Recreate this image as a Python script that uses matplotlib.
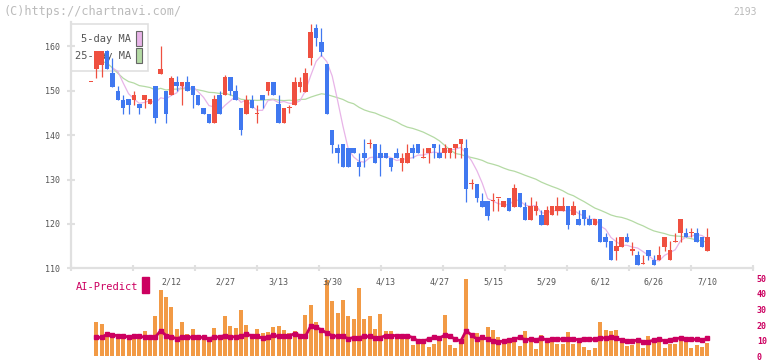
"""
2193 daily candles with 5/25-day MA, plus AI-Predict volume panel.
"""
import numpy as np
import pandas as pd
import matplotlib
matplotlib.use("Agg")
import matplotlib.pyplot as plt
from matplotlib.patches import Rectangle
from matplotlib.transforms import blended_transform_factory

plt.rcParams["font.family"] = ["DejaVu Sans Mono", "DejaVu Sans"]

# ---- data ----
opens = [152.0, 155.0, 155.8, 158.9, 154.0, 149.9, 148.0, 148.1, 148.0, 147.0,
         148.0, 147.0, 151.0, 153.7, 149.9, 149.0, 152.0, 151.0, 152.0, 151.0,
         149.0, 146.0, 144.8, 142.8, 149.0, 149.0, 153.0, 149.9, 146.0, 144.8,
         148.0, 144.8, 149.0, 149.9, 152.0, 147.0, 142.8, 146.0, 146.8, 150.9,
         149.8, 157.3, 164.1, 161.0, 156.0, 141.1, 137.1, 138.0, 137.1, 137.1,
         133.9, 135.9, 138.0, 138.0, 135.9, 135.9, 134.9, 135.9, 133.8, 133.8,
         137.1, 138.0, 134.9, 135.9, 138.0, 135.9, 135.9, 135.9, 137.1, 138.0,
         137.1, 129.0, 129.0, 125.2, 125.2, 125.2, 125.9, 123.9, 125.9, 123.9,
         127.0, 123.9, 120.9, 123.0, 122.0, 119.8, 121.9, 123.0, 123.0, 124.0,
         121.9, 121.1, 123.1, 121.1, 119.8, 121.1, 117.0, 116.1, 114.0, 114.9,
         117.0, 114.0, 113.0, 110.95, 114.1, 111.9, 111.9, 114.9, 111.9, 116.0,
         117.9, 117.9, 117.9, 117.9, 117.0, 114.0]
highs = [152.0, 158.9, 158.9, 159.2, 157.3, 151.0, 149.0, 148.1, 149.9, 147.0,
         149.0, 148.1, 151.0, 160.0, 149.9, 153.2, 153.2, 152.0, 153.2, 151.0,
         149.0, 146.0, 144.8, 149.0, 149.9, 153.5, 153.0, 151.2, 146.0, 149.0,
         149.0, 146.8, 149.0, 152.0, 152.0, 149.0, 146.0, 146.8, 153.1, 153.1,
         155.1, 165.0, 165.0, 164.1, 156.0, 141.1, 138.0, 138.0, 137.1, 137.1,
         135.9, 139.1, 139.1, 138.0, 138.0, 135.9, 134.9, 137.1, 135.9, 138.0,
         138.0, 138.0, 137.1, 137.1, 138.0, 138.0, 138.0, 137.1, 138.0, 139.1,
         139.1, 130.1, 129.0, 127.0, 125.2, 127.0, 125.9, 125.2, 125.9, 129.0,
         127.0, 125.0, 126.0, 125.2, 123.1, 124.0, 124.0, 126.0, 126.0, 124.0,
         125.2, 123.1, 123.1, 121.9, 121.1, 121.1, 117.9, 116.1, 117.0, 117.0,
         117.9, 116.0, 114.0, 113.0, 114.1, 113.0, 115.0, 117.0, 116.1, 117.9,
         121.1, 119.0, 119.0, 119.0, 117.0, 119.0]
lows = [152.0, 152.9, 153.0, 155.0, 150.9, 148.0, 144.8, 144.8, 146.8, 144.8,
        146.0, 147.0, 142.8, 153.7, 142.8, 149.0, 149.9, 146.8, 149.9, 146.0,
        146.8, 144.8, 142.8, 142.8, 144.8, 149.0, 149.0, 148.0, 140.0, 144.8,
        146.0, 142.8, 146.0, 149.0, 149.0, 142.8, 142.8, 145.0, 146.8, 149.8,
        149.8, 155.9, 160.0, 157.9, 144.8, 135.9, 133.8, 132.9, 132.9, 135.9,
        130.9, 132.9, 137.0, 133.8, 130.9, 134.9, 132.0, 134.9, 132.0, 133.8,
        134.9, 135.9, 134.9, 133.8, 134.9, 134.9, 134.9, 134.9, 134.9, 134.9,
        125.0, 127.9, 125.0, 123.9, 120.9, 123.0, 123.0, 123.9, 123.0, 123.9,
        123.9, 120.9, 120.9, 121.9, 119.8, 119.8, 121.9, 121.9, 123.0, 118.9,
        121.9, 119.8, 119.8, 119.8, 119.8, 116.0, 114.9, 111.9, 111.9, 114.9,
        116.0, 113.0, 110.8, 110.95, 111.9, 110.8, 111.9, 114.0, 111.9, 116.0,
        116.0, 117.0, 117.0, 116.0, 114.9, 114.0]
closes = [152.0, 158.9, 158.9, 155.0, 150.9, 148.0, 146.0, 146.8, 149.0, 146.0,
          149.0, 148.1, 143.9, 155.0, 144.8, 152.9, 151.0, 152.0, 149.9, 149.0,
          146.8, 144.8, 142.8, 148.1, 144.8, 153.0, 149.9, 148.0, 141.1, 148.0,
          146.0, 144.8, 148.0, 152.0, 149.0, 142.8, 146.0, 146.0, 152.0, 151.9,
          154.0, 163.2, 161.9, 158.8, 144.8, 137.8, 135.9, 132.9, 132.9, 135.9,
          132.9, 134.9, 138.0, 133.8, 134.9, 134.9, 132.9, 134.9, 134.9, 135.9,
          135.9, 135.9, 134.9, 137.1, 137.1, 134.9, 137.1, 137.1, 138.0, 139.1,
          127.9, 129.0, 125.9, 123.9, 121.8, 125.2, 125.9, 125.2, 123.0, 128.1,
          123.9, 120.9, 124.0, 124.0, 119.8, 123.1, 124.0, 124.0, 124.0, 119.8,
          124.0, 119.8, 121.1, 119.8, 121.1, 116.0, 116.0, 111.9, 115.0, 117.0,
          116.0, 114.0, 110.8, 110.95, 112.8, 110.8, 113.0, 117.0, 114.1, 116.0,
          121.1, 117.0, 117.9, 116.0, 114.9, 117.0]

# volume bars and AI-Predict line start at the 2nd candle
volume = [22.3, 20.4, 12.3, 13.5, 11.7, 14.2, 10.4, 14.2, 14.2, 16.0,
          12.3, 26.0, 42.5, 38.0, 31.7, 17.3, 22.3, 14.2, 17.3, 11.0,
          11.7, 10.4, 18.0, 11.0, 26.0, 19.2, 18.0, 29.8, 19.8,
          11.0, 17.3, 14.8, 15.4, 18.5, 19.2, 16.7, 14.8, 16.0, 13.5,
          26.7, 32.9, 22.3, 14.8, 49.2, 35.4, 27.9, 36.0, 26.0, 24.2,
          43.5, 24.2, 26.0, 17.3, 27.3, 16.0, 16.0, 14.2, 14.2, 11.7,
          7.3, 8.5, 7.9, 6.0, 7.9, 9.8, 26.7, 7.3, 5.4, 9.2,
          49.8, 13.5, 14.8, 11.0, 18.5, 16.7, 12.3, 9.2, 8.5, 9.8,
          6.7, 16.0, 12.3, 4.8, 13.5, 9.2, 9.2, 7.9, 7.9, 15.4,
          7.9, 9.8, 6.0, 4.2, 5.4, 22.3, 16.7, 16.0, 16.7, 9.2,
          6.7, 7.3, 9.8, 5.4, 12.9, 9.8, 9.8, 5.4, 7.9, 7.9,
          10.4, 9.2, 5.4, 7.3, 6.0, 8.5]
ai_predict = [12.1, 12.1, 14.2, 13.5, 13.3, 12.9, 12.5, 12.7, 12.7, 12.3,
              12.1, 12.3, 16.5, 13.3, 12.5, 11.3, 12.3, 12.3, 12.1, 12.1,
              12.1, 11.3, 12.1, 12.5, 13.3, 12.5, 12.5, 13.1, 14.0,
              13.3, 12.7, 11.7, 12.5, 13.5, 12.7, 13.3, 13.3, 14.5, 13.3,
              12.7, 19.5, 18.5, 17.0, 14.8, 13.3, 12.7, 12.7, 11.3, 12.0,
              12.0, 12.7, 12.7, 12.0, 12.0, 13.3, 13.3, 13.3, 12.7, 13.3,
              12.0, 9.8, 9.8, 11.0, 12.1, 11.7, 13.5, 12.7, 11.0, 9.8,
              16.5, 13.5, 11.0, 12.1, 11.0, 9.8, 9.2, 9.8, 10.6, 11.0,
              12.1, 10.6, 11.0, 10.6, 11.5, 10.6, 11.0, 11.0, 11.0, 11.0,
              11.0, 10.6, 11.3, 10.8, 11.0, 12.0, 11.5, 12.3, 11.5, 10.4,
              9.8, 9.8, 10.4, 9.4, 9.4, 10.4, 11.0, 9.8, 10.6, 11.3,
              11.7, 11.0, 10.8, 10.8, 10.4, 11.5]

date_labels = ["2/12", "2/27", "3/13", "3/30", "4/13", "4/27",
               "5/15", "5/29", "6/12", "6/26", "7/10"]
date_index = [15, 25, 35, 45, 55, 65, 75, 85, 95, 105, 115]
price_ticks = [110, 120, 130, 140, 150, 160]
ai_ticks = [0, 10, 20, 30, 40, 50]

# ---- styling ----
RED = "#EF5040"
BLUE = "#4078F0"
MA5_COLOR = "#E8B4E8"
MA25_COLOR = "#B4DAA4"
VOL_COLOR = "#F29A45"
AI_COLOR = "#CC0060"
AXIS_COLOR = "#E0E0E0"
TEXT_COLOR = "#555555"

W, H = 772, 361
fig = plt.figure(figsize=(W / 100, H / 100), dpi=100)


def add_axes_px(left, top, right, bottom):
    return fig.add_axes([left / W, 1 - bottom / H, (right - left) / W, (bottom - top) / H])


X0, X1 = 70.7, 752.7
STEP, FIRST = 5.36, 91.0
xlim = ((X0 - FIRST) / STEP, (X1 - FIRST) / STEP)

df = pd.DataFrame({"open": opens, "high": highs, "low": lows, "close": closes})
x = np.arange(len(df))
ma5 = df["close"].rolling(5).mean()
ma25 = df["close"].rolling(25, min_periods=1).mean()

# ---- price panel ----
ax = add_axes_px(X0, 22, X1, 268.3)
ax.set_xlim(*xlim)
ax.set_ylim(110, 110 + (268.3 - 22) / 4.44)

ax.plot(x[1:], ma25[1:], color=MA25_COLOR, lw=0.9, zorder=2)
ax.plot(x, ma5, color=MA5_COLOR, lw=0.9, zorder=2)

up = df["close"] >= df["open"]
colors = np.where(up, RED, BLUE)
body_lo = np.minimum(df["open"], df["close"])
body_h = np.maximum((df["close"] - df["open"]).abs(), 0.25)
ax.vlines(x, df["low"], df["high"], colors=colors, lw=0.9, zorder=3)
ax.bar(x, body_h, bottom=body_lo, width=0.85, color=colors, zorder=4)

for s in ["top", "right"]:
    ax.spines[s].set_visible(False)
for s in ["left", "bottom"]:
    ax.spines[s].set_color(AXIS_COLOR)
    ax.spines[s].set_linewidth(1.6)
ax.set_yticks(price_ticks)
ax.set_yticklabels([str(t) for t in price_ticks])
ax.tick_params(axis="y", direction="inout", length=6, width=1.5, color=AXIS_COLOR,
               labelcolor=TEXT_COLOR, labelsize=6, pad=5)
ax.set_xticks(np.linspace(xlim[0], xlim[1], 12))
ax.tick_params(axis="x", direction="inout", length=4, width=1.5, color=AXIS_COLOR,
               labelbottom=False)

# legend box, drawn underneath the candles
def ax_pt(px, py):
    return (px - X0) / (X1 - X0), (268.3 - py) / (268.3 - 22)

lx, ly = ax_pt(70.7, 71)
rx, ry = ax_pt(148, 24)
ax.add_patch(Rectangle((lx, ly), rx - lx, ry - ly, transform=ax.transAxes,
                       facecolor="white", edgecolor=AXIS_COLOR, lw=1.2, zorder=1,
                       clip_on=False))
for label, col, top in [("5-day MA", MA5_COLOR, 31), ("25-day MA", MA25_COLOR, 48)]:
    sx, sy = ax_pt(136, top + 15)
    ex, ey = ax_pt(142, top)
    ax.add_patch(Rectangle((sx, sy), ex - sx, ey - sy, transform=ax.transAxes,
                           facecolor=col, edgecolor="#666666", lw=0.8, zorder=1))
    tx, ty = ax_pt(131, top + 8)
    ax.text(tx, ty, label, transform=ax.transAxes, ha="right", va="center",
            fontsize=7.5, color=TEXT_COLOR, zorder=1)

# ---- AI-Predict panel ----
ax2 = add_axes_px(X0, 278.3, X1, 356.3)
ax2.set_xlim(*xlim)
ax2.set_ylim(0, 50)
xv = np.arange(1, len(volume) + 1)
ax2.bar(xv, volume, width=0.75, color=VOL_COLOR, zorder=2)
ax2.plot(xv, ai_predict, color=AI_COLOR, lw=2, marker="s", markersize=2.2, zorder=3)
for s in ax2.spines.values():
    s.set_visible(False)
ax2.set_xticks([])
ax2.yaxis.tick_right()
ax2.set_yticks(ai_ticks)
ax2.set_yticklabels([str(t) for t in ai_ticks])
ax2.tick_params(axis="y", length=0, labelcolor=AI_COLOR, labelsize=6, pad=3)
for t in ax2.get_yticklabels():
    t.set_fontweight("bold")

trans = blended_transform_factory(ax2.transData, ax2.transAxes)
for i, lab in zip(date_index, date_labels):
    ax2.text(i, 0.953, lab, transform=trans, ha="center", va="center",
             fontsize=6, color=TEXT_COLOR, zorder=4)

fig.text(76 / W, 1 - 287 / H, "AI-Predict", color=AI_COLOR, fontsize=7.5, va="center")
fig.patches.append(Rectangle((142 / W, 1 - 293 / H), 6.5 / W, 16 / H,
                             transform=fig.transFigure, color=AI_COLOR))

# ---- header ----
fig.text(3 / W, 1 - 12 / H, "(C)https://chartnavi.com/", color="#BBBBBB",
         fontsize=8.5, va="center")
fig.text(757 / W, 1 - 12 / H, "2193", color="#BBBBBB", fontsize=7, va="center", ha="right")

fig.savefig("out.png", dpi=100)
